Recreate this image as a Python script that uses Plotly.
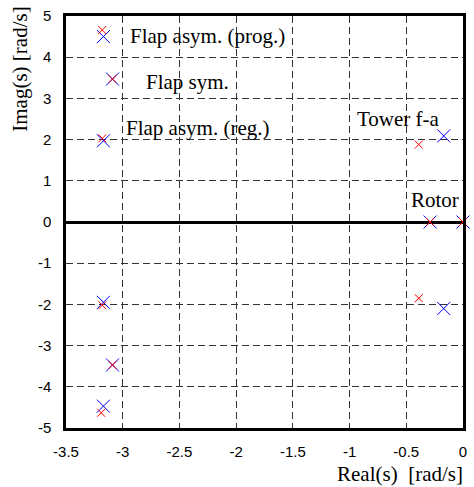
import plotly.graph_objects as go

# Data: poles (real, imag)
blue_re = [-3.17, -3.09, -3.17, -0.17, -0.29, 0.0, -3.17, -3.09, -3.17, -0.17]
blue_im = [4.50, 3.47, 1.97, 2.09, 0.0, 0.0, -1.95, -3.47, -4.47, -2.10]
red_re = [-3.18, -3.09, -3.18, -0.39, -0.29, 0.0, -3.18, -3.09, -3.19, -0.39]
red_im = [4.66, 3.47, 2.03, 1.88, 0.0, 0.0, -2.02, -3.47, -4.63, -1.85]

labels = ["Flap asym. (prog.)", "Flap sym.", "Flap asym. (reg.)", "Tower f-a", "Rotor"]
label_x = [-2.95, -2.81, -2.99, -0.955, -0.475]
label_y = [4.52, 3.41, 2.27, 2.49, 0.53]

xticks = [-3.5, -3, -2.5, -2, -1.5, -1, -0.5, 0]
yticks = [-5, -4, -3, -2, -1, 0, 1, 2, 3, 4, 5]

serif = "Liberation Serif"
sans = "Liberation Sans"

fig = go.Figure()
fig.add_trace(go.Scatter(x=blue_re, y=blue_im, mode="markers",
                         marker=dict(symbol="x-thin", size=13, color="blue",
                                     line=dict(color="blue", width=1)),
                         showlegend=False, cliponaxis=False))
fig.add_trace(go.Scatter(x=red_re, y=red_im, mode="markers",
                         marker=dict(symbol="x-thin", size=8, color="red",
                                     line=dict(color="red", width=1)),
                         showlegend=False, cliponaxis=False))

for t, xx, yy in zip(labels, label_x, label_y):
    fig.add_annotation(x=xx, y=yy, text=t, showarrow=False, xanchor="left",
                       font=dict(family=serif, size=21, color="black"))

fig.update_layout(
    width=474, height=487,
    margin=dict(l=66, r=7, t=15, b=59),
    plot_bgcolor="white", paper_bgcolor="white",
    xaxis=dict(range=[-3.5, 0], tickvals=xticks, ticktext=[f"{v:g}" for v in xticks],
               showgrid=True, gridcolor="#333", griddash="7px,4px", gridwidth=1,
               zeroline=False, showline=True, linecolor="black", linewidth=2.5,
               mirror=True, ticks="", ticklabelstandoff=8,
               tickfont=dict(family=sans, size=15, color="black")),
    yaxis=dict(range=[-5, 5], tickvals=yticks, ticktext=[f"{v:g}" for v in yticks],
               showgrid=True, gridcolor="#333", griddash="7px,4px", gridwidth=1,
               zeroline=True, zerolinecolor="black", zerolinewidth=3,
               showline=True, linecolor="black", linewidth=2.5,
               mirror=True, ticks="", ticklabelstandoff=9,
               tickfont=dict(family=sans, size=15, color="black")),
)
fig.add_annotation(xref="paper", yref="paper", x=1.005, y=-0.112, xanchor="right",
                   yanchor="middle", text="Real(s)  [rad/s]", showarrow=False,
                   font=dict(family=serif, size=21, color="black"))
fig.add_annotation(xref="paper", yref="paper", x=-0.115, y=1.027, xanchor="center",
                   yanchor="top", text="Imag(s) [rad/s]", textangle=-90, showarrow=False,
                   font=dict(family=serif, size=21, color="black"))

fig.write_html("out.html", config={"displayModeBar": False},
               post_script="document.body.style.margin='0';")
